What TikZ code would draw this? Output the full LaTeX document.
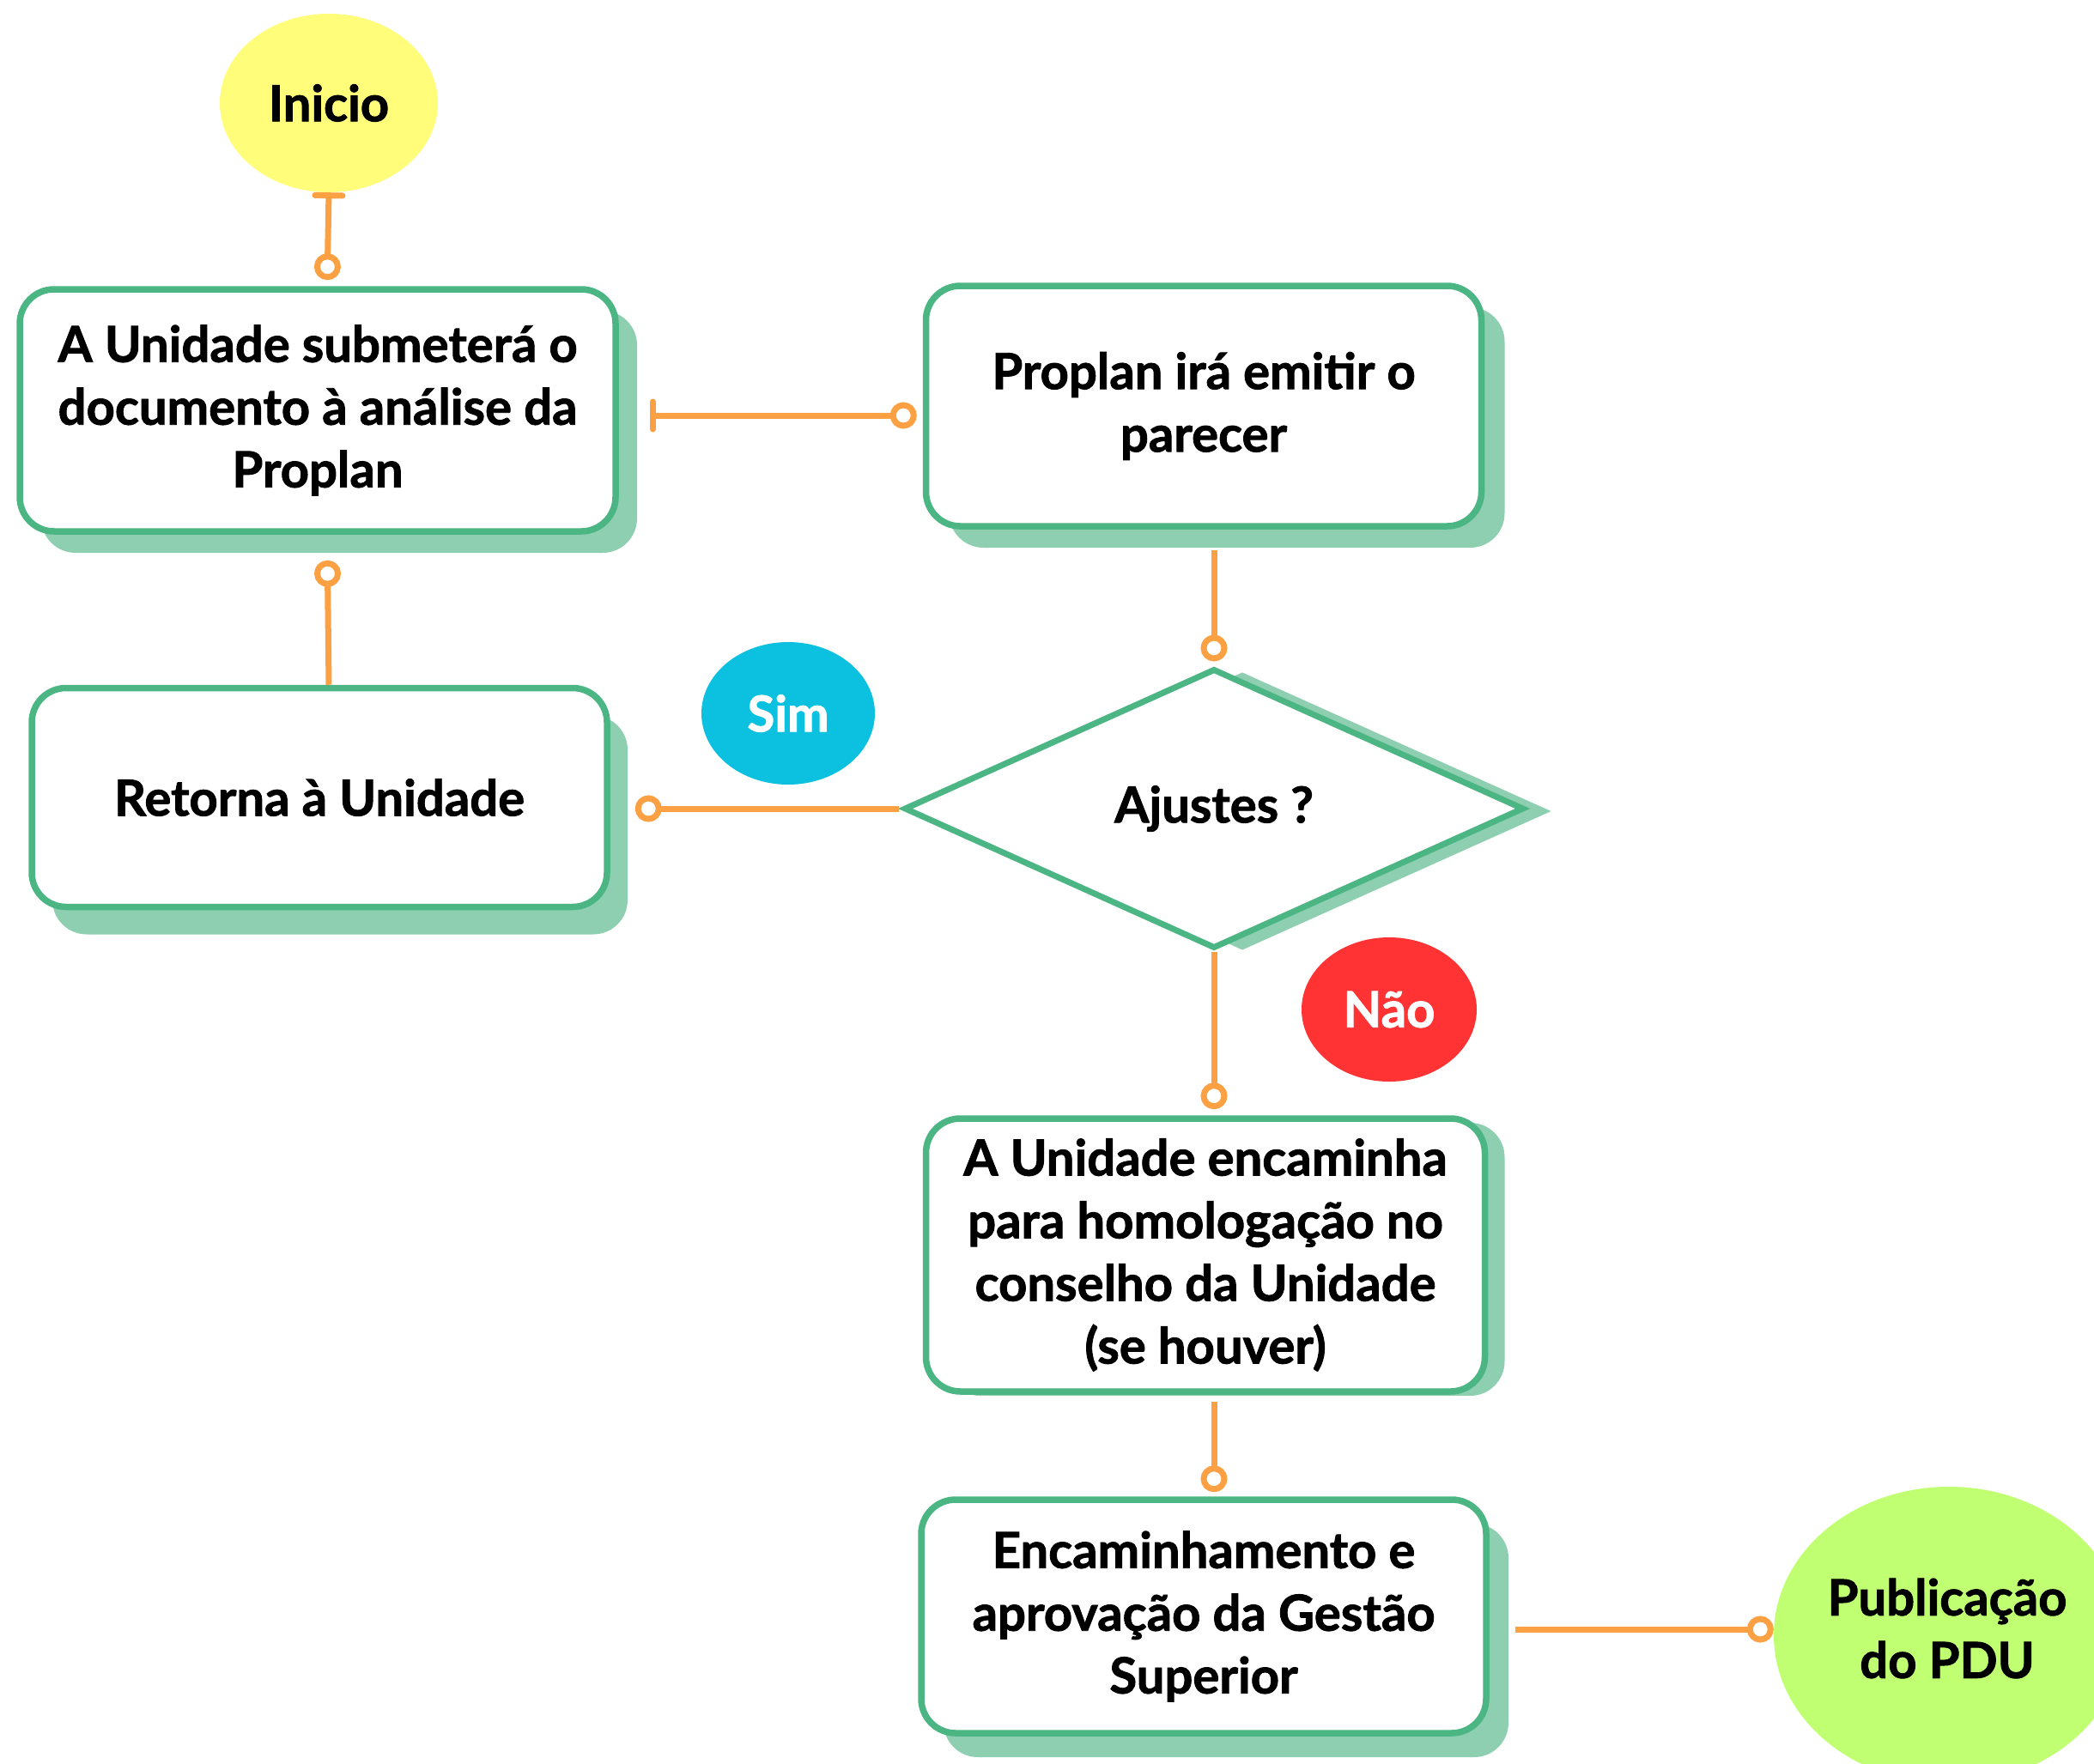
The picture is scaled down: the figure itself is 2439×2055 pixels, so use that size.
\documentclass[tikz,border=0pt]{standalone}
\usepackage{fontspec}
\setmainfont{Lato}[BoldFeatures={FakeBold=1.5}]
\usetikzlibrary{shapes.geometric,arrows.meta,shadows}
\definecolor{bordergreen}{HTML}{4CB584}
\definecolor{shadowgreen}{HTML}{8DCFB0}
\definecolor{lineorange}{HTML}{FBA143}
\definecolor{startyellow}{HTML}{FFFD7A}
\definecolor{simblue}{HTML}{0CC0DF}
\definecolor{naored}{HTML}{FF3333}
\definecolor{endgreen}{HTML}{C1FF72}
\tikzset{
  txt/.style={font=\fontsize{58}{73}\selectfont\bfseries, align=center},
  procbox/.style={txt, draw=bordergreen, line width=7.5pt, fill=white, rounded corners=40pt, inner sep=0pt},
  shad/.style 2 args={drop shadow={shadow xshift=#1pt, shadow yshift=-#2pt, fill=shadowgreen, opacity=1}},
  terminal/.style={txt, ellipse, inner sep=0pt},
  conn/.style={draw=lineorange, line width=7pt},
  ctip/.tip={Circle[open, length=31pt, width=31pt, fill=white]},
  btip/.tip={Bar[width=32pt, round]}
}
\begin{document}
\begin{tikzpicture}[x=1pt, y=-1pt]
\useasboundingbox (0,0) rectangle (2439,2055);
\clip (0,0) rectangle (2439,2055);

% terminals and labels
\node[terminal, fill=startyellow, minimum width=254pt, minimum height=208pt] (inicio) at (383,120) {Inicio};
\node[terminal, fill=simblue, text=white, minimum width=202pt, minimum height=166pt] (sim) at (918,831) {Sim};
\node[terminal, fill=naored, text=white, minimum width=204pt, minimum height=168pt] (nao) at (1618,1176) {Não};
\node[terminal, fill=endgreen, minimum width=408pt, minimum height=346pt] (pub) at (2270,1905) {};
\node[txt] (pubtxt) at (2268,1897) {Publicação\\do PDU};

% process boxes
\node[procbox, shad={25}{25}, minimum width=694pt, minimum height=282pt] (box1) at (370,478)
  {A Unidade submeterá o\\documento à análise da\\Proplan};
\node[procbox, shad={27}{25}, minimum width=647pt, minimum height=280pt] (box2) at (1402,473)
  {Proplan irá emitir o\\parecer};
\node[procbox, shad={24}{32}, minimum width=670pt, minimum height=255pt] (box3) at (372,929)
  {Retorna à Unidade};
\node[procbox, shad={23}{5}, minimum width=651pt, minimum height=318pt] (box4) at (1404,1462)
  {A Unidade encaminha\\para homologação no\\conselho da Unidade\\(se houver)};
\node[procbox, shad={26}{28}, minimum width=658pt, minimum height=272pt] (box5) at (1402,1883)
  {Encaminhamento e\\aprovação da Gestão\\Superior};

% decision
\node[txt, diamond, draw=bordergreen, line width=7pt, fill=white, inner sep=0pt,
  minimum width=722pt, minimum height=326pt, shad={33}{3}] (dec) at (1414,942) {Ajustes ?};

% connectors
\draw[conn, btip-ctip, shorten >=7pt] (inicio.south) -- ([xshift=11pt]box1.north);
\draw[conn, btip-ctip, shorten <=36pt, shorten >=7pt]
  ([yshift=-6pt]box1.east) -- ([yshift=-6pt]box1.east -| box2.west);
\draw[conn, -ctip, shorten >=30pt] ([xshift=11pt]box3.north) -- ([xshift=11pt]box1.south);
\draw[conn, -ctip, shorten <=3pt, shorten >=29pt] (dec.west) -- (dec.west -| box3.east);
\draw[conn, -ctip, shorten <=24pt, shorten >=5pt] ([xshift=12pt]box2.south) -- (dec.north);
\draw[conn, -ctip, shorten >=7pt] (dec.south) -- (dec.south |- box4.north);
\draw[conn, -ctip, shorten <=8pt, shorten >=5pt] ([xshift=10pt]box4.south) -- ([xshift=12pt]box5.north);
\draw[conn, -ctip, shorten <=30pt] ([yshift=-15pt]box5.east) -- ([yshift=-15pt]box5.east -| pub.west);
\end{tikzpicture}
\end{document}
